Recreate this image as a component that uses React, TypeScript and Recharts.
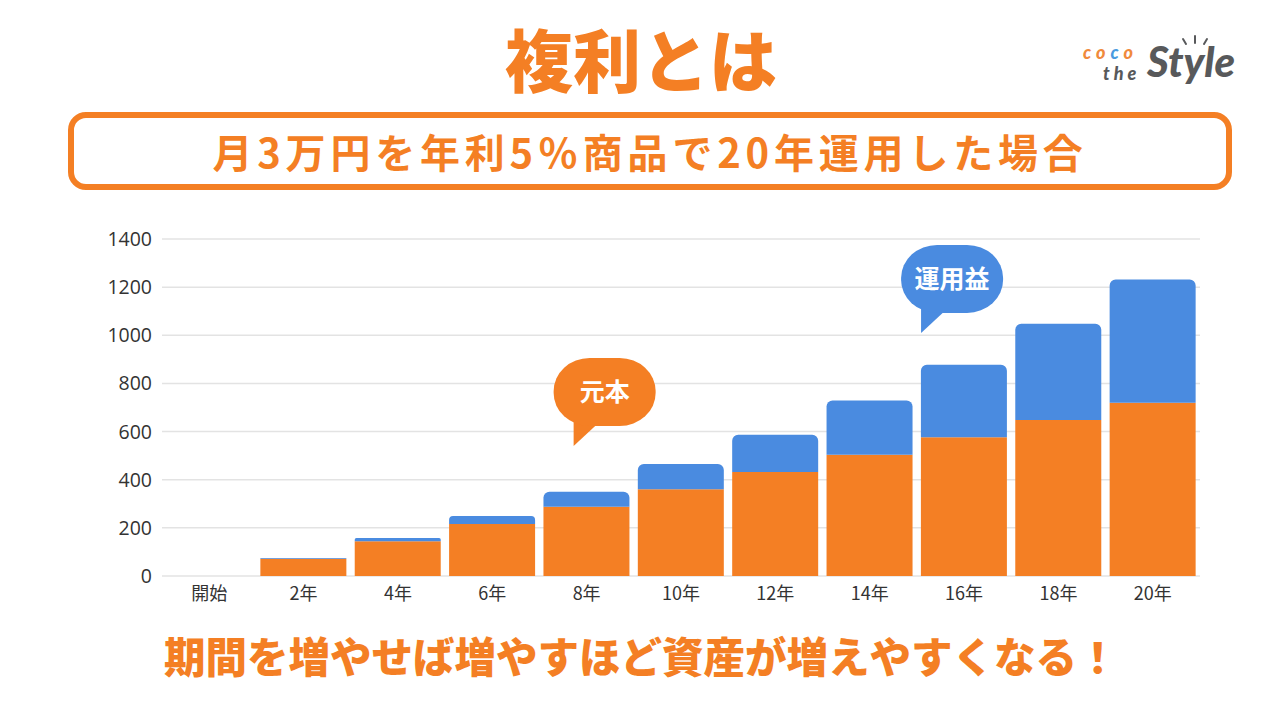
import { BarChart, Bar, XAxis, YAxis, CartesianGrid, ReferenceDot } from "recharts";

const categories = ["開始", "2年", "4年", "6年", "8年", "10年", "12年", "14年", "16年", "18年", "20年"];
// 元本（万円）
const principal = [0, 72, 144, 216, 288, 360, 432, 504, 576, 648, 720];
// 運用益（万円）
const gain = [0, 3, 14, 33, 62, 105, 155, 225, 302, 400, 512];
const yTicks = [0, 200, 400, 600, 800, 1000, 1200, 1400];

const ORANGE = "#F47F24";
const BLUE = "#4A8BE0";
const FONT = '"Noto Sans CJK JP", "Noto Sans", sans-serif';

const data = categories.map((name, i) => ({ name, principal: principal[i], gain: gain[i] }));

function XTick(props: any) {
  const { x, y, payload } = props;
  return (
    <text x={x} y={y + 14} textAnchor="middle" fill="#333" fontSize={18} fontFamily={FONT}>
      {payload.value}
    </text>
  );
}

function YTick(props: any) {
  const { x, y, payload } = props;
  return (
    <text x={x - 1} y={y + 7} textAnchor="end" fill="#333" fontSize={19.5} fontFamily='"Open Sans", sans-serif'>
      {payload.value}
    </text>
  );
}

function bubble(label: string, color: string, dx: number) {
  // tail tip sits at (cx + dx, cy); bubble body above-right of it
  return (props: any) => {
    const tx = props.cx + dx;
    const ty = props.cy;
    const bx = tx + 31;
    const by = ty - 54;
    return (
      <g>
        <path d={`M ${tx} ${ty} L ${tx} ${by + 22} L ${tx + 28} ${by + 28} Z`} fill={color} />
        <rect x={bx - 51} y={by - 34} width={102} height={68} rx={36} ry={33} fill={color} />
        <text
          x={bx}
          y={by + 9}
          textAnchor="middle"
          fill="#fff"
          fontSize={25}
          fontWeight={700}
          fontFamily={FONT}
        >
          {label}
        </text>
      </g>
    );
  };
}

export default function App() {
  return (
    <div
      style={{
        position: "absolute",
        left: 0,
        top: 0,
        width: 1282,
        height: 716,
        background: "#fff",
        fontFamily: FONT,
        overflow: "hidden",
      }}
    >
      <div style={{ position: "absolute", left: 0, top: 0 }}>
        <BarChart
          width={1282}
          height={716}
          data={data}
          margin={{ top: 239, right: 82, bottom: 110, left: 102 }}
        >
          <CartesianGrid vertical={false} stroke="#e3e3e3" strokeWidth={1.5} />
          <XAxis dataKey="name" axisLine={false} tickLine={false} tickMargin={4} tick={<XTick />} />
          <YAxis
            width={60}
            domain={[0, 1400]}
            ticks={yTicks}
            axisLine={false}
            tickLine={false}
            tickMargin={3}
            tick={<YTick />}
          />
          <Bar dataKey="principal" stackId="a" fill={ORANGE} barSize={86} isAnimationActive={false} />
          <Bar
            dataKey="gain"
            stackId="a"
            fill={BLUE}
            barSize={86}
            radius={[6, 6, 0, 0]}
            isAnimationActive={false}
          />
          <ReferenceDot x="8年" y={540} r={0} shape={bubble("元本", ORANGE, -13)} />
          <ReferenceDot x="16年" y={1010} r={0} shape={bubble("運用益", BLUE, -43)} />
        </BarChart>
      </div>

      <div
        style={{
          position: "absolute",
          left: 0,
          width: 1282,
          top: 18,
          textAlign: "center",
          color: ORANGE,
          fontSize: 68,
          fontWeight: 900,
          lineHeight: "80px",
        }}
      >
        複利とは
      </div>

      <div
        style={{
          position: "absolute",
          left: 68,
          top: 112,
          width: 1164,
          height: 78,
          boxSizing: "border-box",
          border: `6px solid ${ORANGE}`,
          borderRadius: 18,
          display: "flex",
          alignItems: "center",
          justifyContent: "center",
          color: ORANGE,
          fontSize: 40,
          fontWeight: 700,
          letterSpacing: 4.8,
          whiteSpace: "nowrap",
        }}
      >
        月3万円を年利5％商品で20年運用した場合
      </div>

      <div
        style={{
          position: "absolute",
          left: 164,
          top: 626,
          color: ORANGE,
          fontSize: 41.5,
          fontWeight: 900,
          lineHeight: "58px",
          whiteSpace: "nowrap",
        }}
      >
        期間を増やせば増やすほど資産が増えやすくなる！
      </div>

      <div style={{ position: "absolute", left: 1082, top: 34, width: 170, height: 58 }}>
        <div
          style={{
            position: "absolute",
            left: 1,
            top: 9,
            fontSize: 18,
            fontWeight: 900,
            fontStyle: "italic",
            fontFamily: "Lato, sans-serif",
            lineHeight: "18px",
            letterSpacing: 5,
          }}
        >
          <span style={{ color: "#F08A3C" }}>co</span>
          <span style={{ color: "#4A9BE0" }}>c</span>
          <span style={{ color: "#F08A3C" }}>o</span>
        </div>
        <div
          style={{
            position: "absolute",
            left: 21,
            top: 30,
            fontSize: 18,
            fontWeight: 900,
            fontStyle: "italic",
            fontFamily: "Lato, sans-serif",
            color: "#58595b",
            lineHeight: "18px",
            letterSpacing: 4,
          }}
        >
          the
        </div>
        <div
          style={{
            position: "absolute",
            left: 65,
            top: 3,
            fontSize: 42,
            fontWeight: 900,
            fontStyle: "italic",
            fontFamily: "Lato, sans-serif",
            color: "#58595b",
            lineHeight: "48px",
          }}
        >
          Style
        </div>
        <svg style={{ position: "absolute", left: 0, top: 0 }} width={170} height={20}>
          <line x1={101} y1={5} x2={104} y2={10} stroke="#58595b" strokeWidth={2} strokeLinecap="round" />
          <line x1={113} y1={2} x2={113} y2={9} stroke="#58595b" strokeWidth={2} strokeLinecap="round" />
          <line x1={125} y1={5} x2={122} y2={10} stroke="#58595b" strokeWidth={2} strokeLinecap="round" />
        </svg>
      </div>
    </div>
  );
}
